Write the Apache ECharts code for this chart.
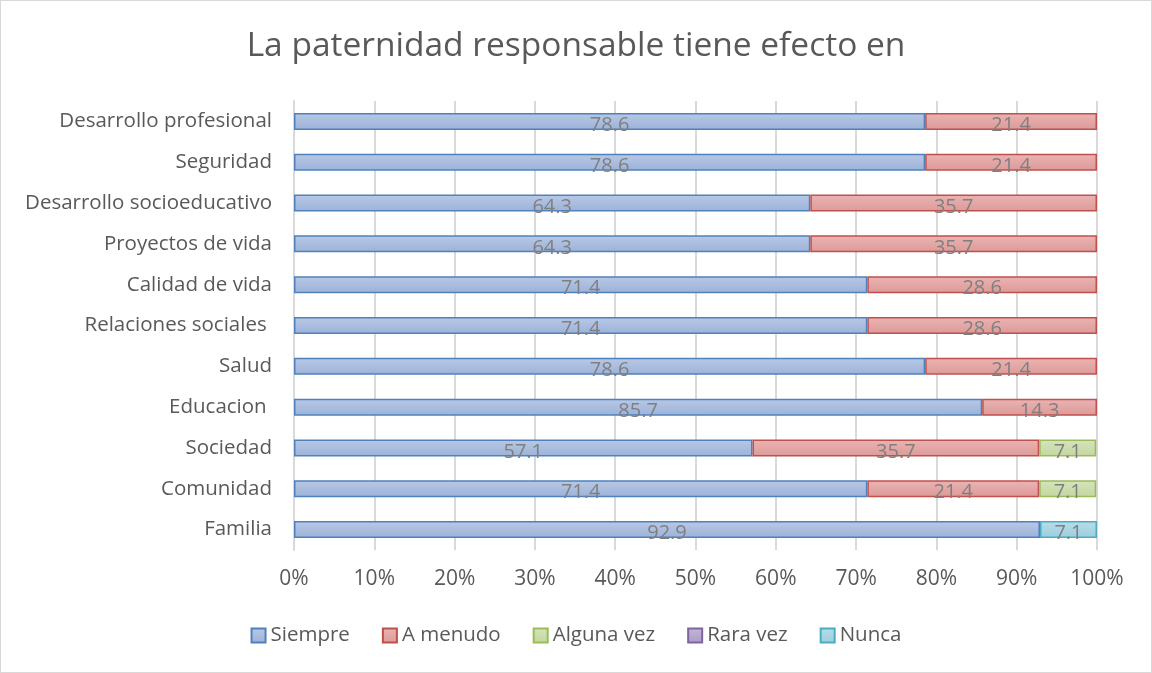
<!DOCTYPE html>
<html>
<head>
<meta charset="utf-8">
<script src="https://cdn.jsdelivr.net/npm/echarts@6/dist/echarts.min.js"></script>
<style>
  html, body { margin: 0; padding: 0; background: #fff; }
  #chart { width: 1150px; height: 671px; border: 1px solid #d9d9d9; }
</style>
</head>
<body>
<div id="chart"></div>
<script>
// categories bottom -> top (echarts category axis starts at the bottom)
const categorias = ['Familia', 'Comunidad', 'Sociedad', 'Educacion ', 'Salud', 'Relaciones sociales ',
  'Calidad de vida', 'Proyectos de vida', 'Desarrollo socioeducativo', 'Seguridad', 'Desarrollo profesional']
const siempre = [92.9, 71.4, 57.1, 85.7, 78.6, 71.4, 71.4, 64.3, 64.3, 78.6, 78.6]
const aMenudo = [null, 21.4, 35.7, 14.3, 21.4, 28.6, 28.6, 35.7, 35.7, 21.4, 21.4]
const algunaVez = [null, 7.1, 7.1, null, null, null, null, null, null, null, null]
const raraVez = [null, null, null, null, null, null, null, null, null, null, null]
const nunca = [7.1, null, null, null, null, null, null, null, null, null, null]

const fontName = 'Open Sans'
const chart = echarts.init(document.getElementById('chart'))

function grad(top, bottom) {
  return new echarts.graphic.LinearGradient(0, 0, 0, 1, [
    { offset: 0, color: top },
    { offset: 1, color: bottom }
  ])
}

function serie(name, data, fill, border) {
  return {
    name: name,
    type: 'bar',
    stack: 'total',
    barWidth: 17,
    data: data,
    itemStyle: { color: fill, borderColor: border, borderWidth: 1.5 },
    label: {
      show: true,
      position: 'inside',
      offset: [0, 4],
      color: '#7f7f7f',
      fontSize: 20,
      fontFamily: fontName,
      formatter: (p) => p.value == null ? '' : p.value.toFixed(1)
    }
  }
}

chart.setOption({
  animation: false,
  textStyle: { fontFamily: fontName },
  title: {
    text: 'La paternidad responsable tiene efecto en',
    left: 'center',
    top: 23,
    textStyle: { fontSize: 33.5, fontWeight: 'normal', color: '#595959', fontFamily: fontName }
  },
  legend: {
    bottom: 21,
    left: 'center',
    icon: 'rect',
    itemWidth: 14,
    itemHeight: 14,
    itemGap: 32,
    textStyle: { fontSize: 20.5, color: '#595959', fontFamily: fontName },
    data: ['Siempre', 'A menudo', 'Alguna vez', 'Rara vez', 'Nunca']
  },
  grid: { left: 293, right: 54, top: 100, bottom: 122 },
  xAxis: {
    type: 'value',
    min: 0,
    max: 100,
    interval: 10,
    axisLine: { show: false },
    axisTick: { show: false },
    splitLine: { lineStyle: { color: '#d9d9d9', width: 2 } },
    axisLabel: { formatter: '{value}%', fontSize: 21, color: '#595959', margin: 19 }
  },
  yAxis: {
    type: 'category',
    data: categorias,
    axisTick: { show: false },
    axisLine: { lineStyle: { color: '#d9d9d9', width: 2 } },
    axisLabel: { fontSize: 20.5, color: '#595959', margin: 22 }
  },
  series: [
    serie('Siempre', siempre, grad('#b9c9e6', '#9cb2d8'), '#4f81bd'),
    serie('A menudo', aMenudo, grad('#eab4b3', '#dc9a98'), '#c0504d'),
    serie('Alguna vez', algunaVez, grad('#d6e4bd', '#c3d69e'), '#9bbb59'),
    serie('Rara vez', raraVez, grad('#c4b7d6', '#ab9cc4'), '#8064a2'),
    serie('Nunca', nunca, grad('#b7dde8', '#9ccedd'), '#4bacc6')
  ]
})
window.addEventListener('resize', () => chart.resize())
</script>
</body>
</html>
